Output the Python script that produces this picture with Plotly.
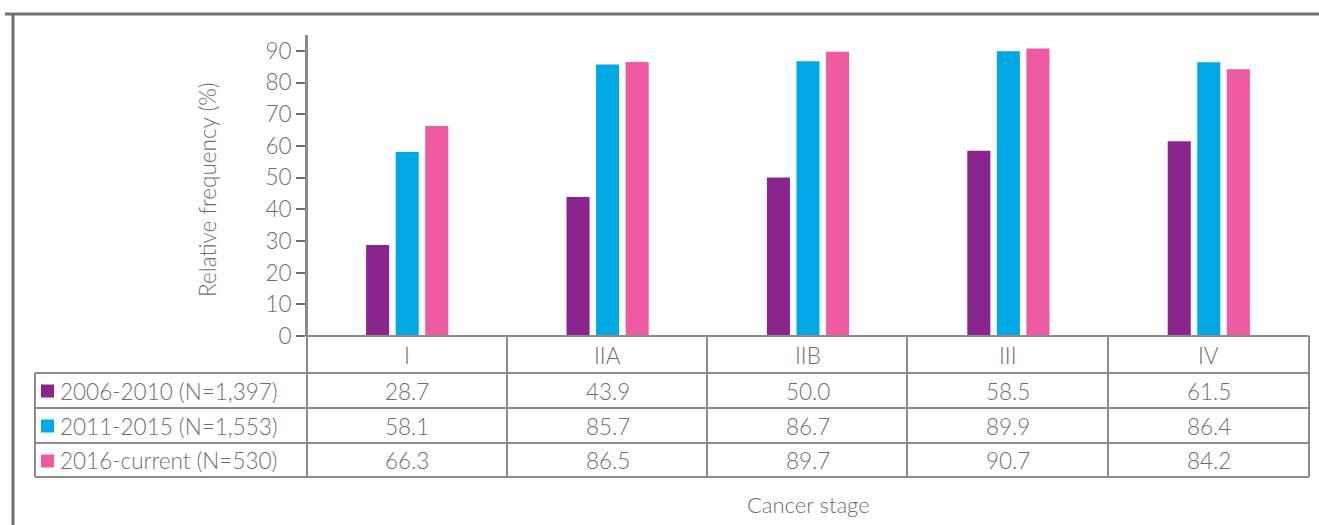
import plotly.graph_objects as go

# Data
stages = ["I", "IIA", "IIB", "III", "IV"]
series_names = ["2006-2010 (N=1,397)", "2011-2015 (N=1,553)", "2016-current (N=530)"]
freq_2006_2010 = [28.7, 43.9, 50.0, 58.5, 61.5]
freq_2011_2015 = [58.1, 85.7, 86.7, 89.9, 86.4]
freq_2016_current = [66.3, 86.5, 89.7, 90.7, 84.2]
y_ticks = [0, 10, 20, 30, 40, 50, 60, 70, 80, 90]

series_values = [freq_2006_2010, freq_2011_2015, freq_2016_current]
colors = ["#8A258E", "#00A9E3", "#EF5BA1"]

W, H = 1319, 525
TEXT = "#6D6E71"
GRID = "#8C8C8C"
FONT = "Lato"
FS = 22.5
WEIGHT = 300


def px(x):
    return x / W


def py(y):
    return 1 - y / H


def tfont(size=FS):
    return dict(size=size, color=TEXT, family=FONT, weight=WEIGHT)


fig = go.Figure()
for name, vals, col in zip(series_names, series_values, colors):
    fig.add_trace(go.Bar(x=list(range(len(stages))), y=vals, name=name,
                         marker=dict(color=col, line=dict(width=0)),
                         showlegend=False))

shapes = []


def hline(x0, x1, y, w=2, c=GRID):
    shapes.append(dict(type="line", xref="paper", yref="paper",
                       x0=px(x0), x1=px(x1), y0=py(y), y1=py(y),
                       line=dict(color=c, width=w)))


def vline(x, y0, y1, w=2, c=GRID):
    shapes.append(dict(type="line", xref="paper", yref="paper",
                       x0=px(x), x1=px(x), y0=py(y0), y1=py(y1),
                       line=dict(color=c, width=w)))


# outer frame
hline(5, 1319, 14, w=3, c="#707070")
vline(13, 13, 525, w=3, c="#707070")

# table grid
row_y = [336, 373, 408, 443, 477]
col_x = [307, 507, 707, 907, 1108, 1309]
hline(307, 1309, row_y[0])
for y in row_y[1:]:
    hline(35, 1309, y)
vline(35, row_y[1], row_y[-1])
vline(307, 35, row_y[-1])
for x in col_x[1:]:
    vline(x, row_y[0], row_y[-1])

annotations = []
# stage header labels
for i, s in enumerate(stages):
    annotations.append(dict(x=i, xref="x", y=py(355), yref="paper", text=s,
                            showarrow=False, xanchor="center", yanchor="middle",
                            font=tfont()))
# rows of values with colour keys
row_centers = [391, 426, 461]
for name, vals, col, yc in zip(series_names, series_values, colors, row_centers):
    shapes.append(dict(type="rect", xref="paper", yref="paper",
                       x0=px(41), x1=px(54), y0=py(yc - 6.5), y1=py(yc + 6.5),
                       fillcolor=col, line=dict(width=0)))
    annotations.append(dict(x=px(58), xref="paper", y=py(yc), yref="paper", text=name,
                            showarrow=False, xanchor="left", yanchor="middle",
                            font=tfont()))
    for i, v in enumerate(vals):
        annotations.append(dict(x=i, xref="x", y=py(yc), yref="paper", text=f"{v:.1f}",
                                showarrow=False, xanchor="center", yanchor="middle",
                                font=tfont()))

# axis titles
annotations.append(dict(x=px(207), xref="paper", y=py(190), yref="paper",
                        text="Relative frequency (%)", textangle=-90, showarrow=False,
                        xanchor="center", yanchor="middle", font=tfont()))
annotations.append(dict(x=px(809), xref="paper", y=py(504), yref="paper",
                        text="Cancer stage", showarrow=False,
                        xanchor="center", yanchor="middle", font=tfont(22)))

fig.update_layout(
    width=W, height=H, autosize=False,
    margin=dict(l=0, r=0, t=0, b=0, pad=0, autoexpand=False),
    paper_bgcolor="white", plot_bgcolor="white",
    barmode="group", bargap=0.5575, bargroupgap=0.22,
    shapes=shapes, annotations=annotations,
    xaxis=dict(domain=[px(307), px(1309)], range=[-0.5, 4.5],
               showticklabels=False, showgrid=False, zeroline=False,
               showline=False, ticks="", automargin=False),
    yaxis=dict(domain=[py(336), py(35)], range=[0, 95],
               tickvals=y_ticks, ticks="outside", ticklen=9, tickwidth=1.5,
               tickcolor=TEXT, showgrid=False, zeroline=False,
               showline=True, linecolor=GRID, linewidth=2, automargin=False,
               tickfont=tfont()),
    font=dict(family=FONT, color=TEXT),
)

fig.write_html("out.html", config={"responsive": False})
